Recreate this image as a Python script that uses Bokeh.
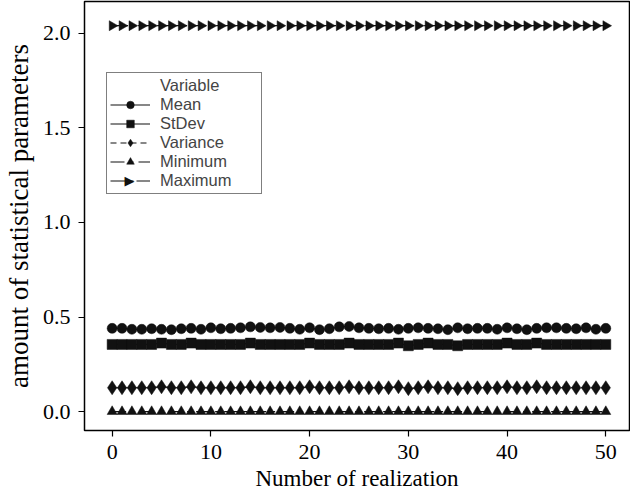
import numpy as np
from bokeh.plotting import figure
from bokeh.models import Legend, LegendItem, FixedTicker, NumeralTickFormatter, Range1d, Label
from bokeh.embed import file_html
from bokeh.resources import INLINE

realization = list(range(51))
mean_vals = [0.440, 0.440, 0.435, 0.435, 0.438, 0.435, 0.433, 0.438, 0.440, 0.435,
             0.443, 0.438, 0.440, 0.443, 0.448, 0.445, 0.443, 0.445, 0.440, 0.435,
             0.443, 0.433, 0.438, 0.448, 0.450, 0.443, 0.440, 0.438, 0.440, 0.435,
             0.440, 0.443, 0.440, 0.438, 0.433, 0.443, 0.438, 0.440, 0.440, 0.435,
             0.443, 0.438, 0.433, 0.440, 0.443, 0.443, 0.440, 0.438, 0.443, 0.435,
             0.440]
stdev_vals = [0.355, 0.355, 0.355, 0.355, 0.355, 0.362, 0.355, 0.355, 0.362, 0.355,
              0.355, 0.355, 0.355, 0.355, 0.362, 0.355, 0.355, 0.355, 0.355, 0.355,
              0.362, 0.355, 0.355, 0.355, 0.362, 0.355, 0.355, 0.355, 0.355, 0.362,
              0.348, 0.355, 0.362, 0.355, 0.355, 0.348, 0.355, 0.355, 0.355, 0.355,
              0.362, 0.355, 0.355, 0.362, 0.355, 0.355, 0.355, 0.355, 0.355, 0.355,
              0.355]
variance_vals = [0.126, 0.126, 0.126, 0.126, 0.126, 0.131, 0.126, 0.126, 0.131, 0.126,
                 0.126, 0.126, 0.126, 0.126, 0.131, 0.126, 0.126, 0.126, 0.126, 0.126,
                 0.131, 0.126, 0.126, 0.126, 0.131, 0.126, 0.126, 0.126, 0.126, 0.131,
                 0.121, 0.126, 0.131, 0.126, 0.126, 0.121, 0.126, 0.126, 0.126, 0.126,
                 0.131, 0.126, 0.126, 0.131, 0.126, 0.126, 0.126, 0.126, 0.126, 0.126,
                 0.126]
minimum_vals = [0.0] * 51
maximum_vals = [2.04] * 51

# name, values, marker, size, legend dash, marker angle
series = [
    ("Mean", mean_vals, "circle", 10, "solid", 0),
    ("StDev", stdev_vals, "square", 10, "solid", 0),
    ("Variance", variance_vals, "diamond", 14, "6 4", 0),
    ("Minimum", minimum_vals, "triangle", 10, "14 5 4 5", 0),
    ("Maximum", maximum_vals, "triangle", 10, "16 3 4 3", -np.pi / 2),
]

p = figure(width=630, height=493, output_backend="svg", toolbar_location=None,
           x_range=Range1d(-2.8, 52.4), y_range=Range1d(-0.10, 2.168),
           min_border_left=82, min_border_right=1, min_border_top=1, min_border_bottom=10)
p.grid.visible = False
p.outline_line_color = "black"
p.outline_line_width = 1.5

LEG_X, LEG_Y, LEG_PAD, GLYPH_W, GLYPH_H = 22, 236, 3, 40, 19

items = []
dummy = p.line([0], [0], line_alpha=0)
items.append(LegendItem(label="Variable", renderers=[dummy]))
for name, vals, marker, size, dash, ang in series:
    lr = p.line(realization, vals, line_color="#111111", line_width=1.2, line_dash=dash)
    sr = p.scatter(realization, vals, marker=marker, size=size, angle=ang,
                   fill_color="#111111", line_color="#111111", line_width=0.5)
    if ang == 0:
        items.append(LegendItem(label=name, renderers=[lr, sr]))
    else:
        items.append(LegendItem(label=name, renderers=[lr]))

legend = Legend(items=items, location=(LEG_X, LEG_Y), padding=LEG_PAD, spacing=0,
                label_height=GLYPH_H, glyph_height=GLYPH_H, glyph_width=GLYPH_W, label_standoff=10,
                label_width=98, border_line_color="black", border_line_width=1,
                label_text_font="Liberation Sans", label_text_font_size="16.5px",
                margin=0, background_fill_alpha=0)
p.add_layout(legend)

# right-pointing marker for the Maximum legend entry (legend ignores marker angle)
p.add_layout(Label(x=LEG_X + LEG_PAD + GLYPH_W / 2, y=LEG_Y + LEG_PAD + GLYPH_H / 2 + 2,
                   x_units="screen", y_units="screen", text="\u25B6", level="overlay",
                   text_font="DejaVu Sans", text_font_size="13px", text_color="#111111",
                   text_align="center", text_baseline="middle"))

p.xaxis.ticker = FixedTicker(ticks=[0, 10, 20, 30, 40, 50])
p.yaxis.ticker = FixedTicker(ticks=[0.0, 0.5, 1.0, 1.5, 2.0])
p.yaxis.formatter = NumeralTickFormatter(format="0.0")
for ax in (p.xaxis[0], p.yaxis[0]):
    ax.axis_line_color = None
    ax.minor_tick_line_color = None
    ax.major_tick_out = 6
    ax.major_tick_in = 0
    ax.major_tick_line_color = "black"
    ax.major_tick_line_width = 1.2
    ax.major_label_text_font = "Liberation Serif"
    ax.major_label_text_font_size = "22px"
    ax.major_label_text_color = "black"
    ax.axis_label_text_font = "Liberation Serif"
    ax.axis_label_text_font_style = "normal"
    ax.axis_label_text_color = "black"
p.xaxis.axis_label_text_font_size = "23px"
p.yaxis.axis_label_text_font_size = "27px"
p.xaxis.axis_label = "Number of realization"
p.yaxis.axis_label = "amount of statistical parameters"
p.xaxis.major_label_standoff = 8
p.yaxis.major_label_standoff = 8
p.xaxis.axis_label_standoff = 4
p.yaxis.axis_label_standoff = 6

open("out.html", "w").write(file_html(p, INLINE))
